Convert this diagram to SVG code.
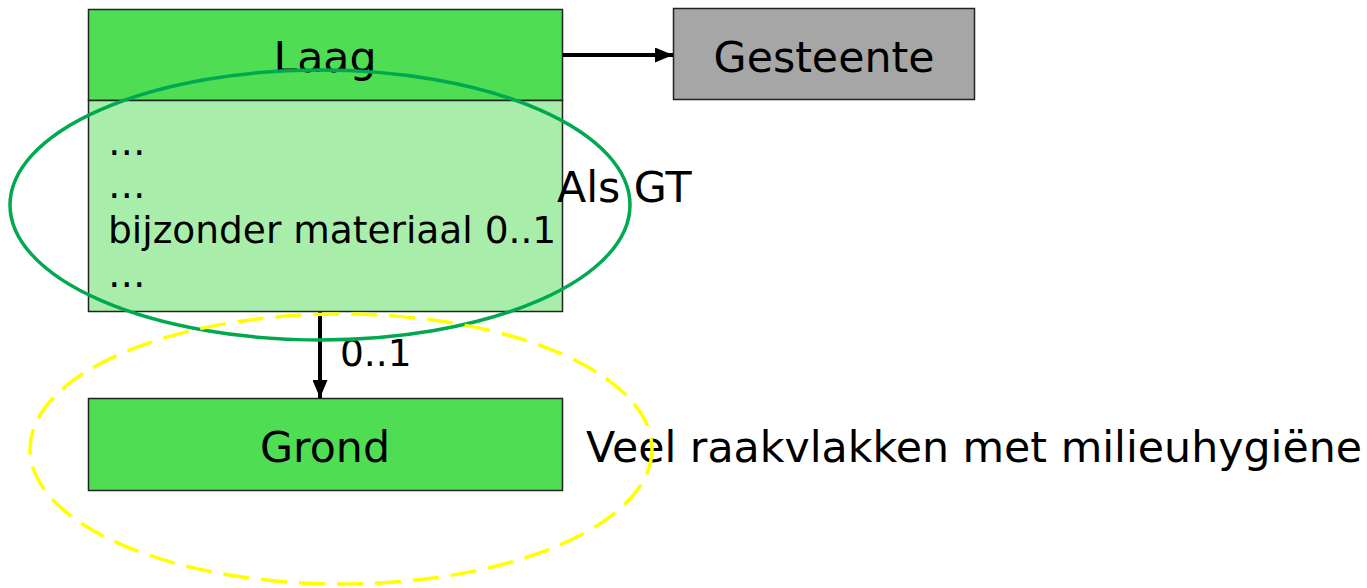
<svg xmlns="http://www.w3.org/2000/svg" width="1367" height="588" viewBox="0 0 1367 588">
<style>
text{font-family:"DejaVu Sans","Verdana",sans-serif;fill:#000}
.big{font-size:42.7px}
.mid{font-size:37.5px}
.dots{font-size:37.5px;letter-spacing:-3px}
.box{stroke:#222;stroke-width:1.5}
.conn{stroke:#000;stroke-width:4;fill:none}
</style>
<defs>
<marker id="ah" viewBox="0 0 18 15" refX="18" refY="7.5" markerWidth="18" markerHeight="15" markerUnits="userSpaceOnUse" orient="auto">
<path d="M0,0 L18,7.5 L0,15 z" fill="#000"/>
</marker>
</defs>
<rect width="1367" height="588" fill="#fff"/>
<g id="laag">
<rect class="box" x="88.5" y="9.5" width="474" height="91" fill="#4fdd54"/>
<rect class="box" x="88.5" y="100.5" width="474" height="211" fill="#a8eeaa"/>
<text class="big" x="325" y="72" text-anchor="middle">Laag</text>
<text class="dots" x="108" y="155">…</text>
<text class="dots" x="108" y="198">…</text>
<text class="mid" x="108" y="243">bijzonder materiaal 0..1</text>
<text class="dots" x="108" y="287">…</text>
</g>
<g id="gesteente">
<rect class="box" x="673.5" y="8.5" width="301" height="91" fill="#a6a6a6"/>
<text class="big" x="824" y="72" text-anchor="middle">Gesteente</text>
</g>
<g id="grond">
<rect class="box" x="88.5" y="398.5" width="474" height="92" fill="#4fdd54"/>
<text class="big" x="325" y="462" text-anchor="middle">Grond</text>
</g>
<g id="connectors">
<line class="conn" x1="563" y1="55" x2="673" y2="55" marker-end="url(#ah)"/>
<line class="conn" x1="320" y1="312" x2="320" y2="398" marker-end="url(#ah)"/>
<text class="mid" x="340" y="366">0..1</text>
</g>
<g id="labels">
<text class="big" x="557" y="202">Als GT</text>
<text class="big" x="586" y="462">Veel raakvlakken met milieuhygiëne</text>
</g>
<g id="highlights">
<ellipse cx="320" cy="205" rx="310" ry="135" fill="none" stroke="#00a84f" stroke-width="3.5"/>
<ellipse cx="341" cy="449" rx="311" ry="135" fill="none" stroke="#ffff00" stroke-width="3.5" stroke-dasharray="26 12"/>
</g>
</svg>
